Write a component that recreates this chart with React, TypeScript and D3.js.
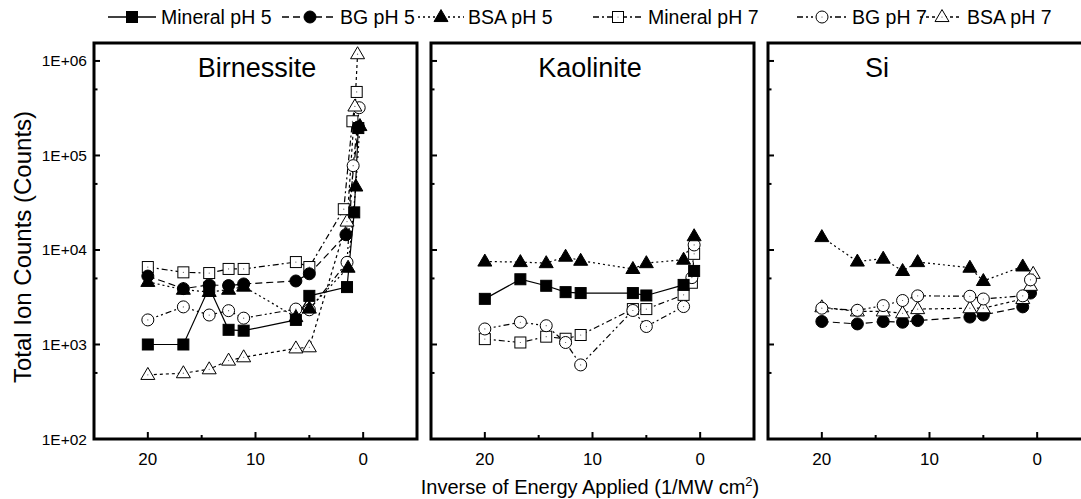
import React from "react";
import * as d3 from "d3";

// ---------- data ----------
const panelNames = ["Birnessite", "Kaolinite", "Si"];
const seriesNames = ["Mineral pH 5", "BG pH 5", "BSA pH 5", "Mineral pH 7", "BG pH 7", "BSA pH 7"];
const xStd = [20, 16.7, 14.3, 12.5, 11.1, 6.25, 5.0];

// Birnessite
const birMin5X = [...xStd, 1.5, 0.83, 0.45];
const birMin5Y = [1000, 1000, 4000, 1430, 1400, 1820, 3270, 4050, 25000, 195000];
const birBg5X = [...xStd, 1.6, 0.45];
const birBg5Y = [5300, 3900, 4270, 4200, 4370, 4700, 5600, 14500, 200000];
const birBsa5X = [...xStd, 1.4, 0.68, 0.3];
const birBsa5Y = [4600, 3800, 3600, 3800, 4100, 1950, 2400, 6500, 47000, 205000];
const birMin7X = [...xStd, 1.8, 1.0, 0.6];
const birMin7Y = [6600, 5800, 5700, 6300, 6300, 7450, 6600, 27000, 230000, 470000];
const birBg7X = [...xStd, 1.5, 0.93, 0.37];
const birBg7Y = [1820, 2500, 2050, 2280, 1900, 2370, 2330, 7400, 78000, 320000];
const birBsa7X = [...xStd, 1.5, 0.77, 0.52];
const birBsa7Y = [477, 497, 547, 676, 733, 910, 935, 20000, 330000, 1180000];

// Kaolinite
const kaoBsa5X = [...xStd, 1.54, 0.56];
const kaoBsa5Y = [7550, 7450, 7260, 8500, 7700, 6300, 7260, 7900, 14000];
const kaoMin5X = [...xStd, 1.54, 0.56];
const kaoMin5Y = [3040, 4900, 4180, 3580, 3500, 3500, 3300, 4270, 6000];
const kaoBg7X = [...xStd, 1.54, 0.77, 0.56];
const kaoBg7Y = [1460, 1720, 1580, 1050, 608, 2290, 1550, 2520, 5100, 11300];
const kaoMin7X = [...xStd, 1.54, 0.77, 0.56];
const kaoMin7Y = [1140, 1050, 1210, 1150, 1260, 2370, 2370, 3350, 4500, 9100];

// Si
const siBsa5X = [...xStd, 1.34];
const siBsa5Y = [13700, 7550, 8100, 6000, 7450, 6500, 4700, 6700];
const siBg7X = [...xStd, 1.34, 0.62];
const siBg7Y = [2420, 2300, 2580, 2920, 3270, 3240, 3030, 3270, 4830];
const siBsa7X = [...xStd, 1.34, 0.62, 0.37];
const siBsa7Y = [2480, 2240, 2240, 2140, 2370, 2420, 2420, 3030, 4180, 5600];
const siBg5X = [...xStd, 1.34, 0.62];
const siBg5Y = [1750, 1650, 1750, 1720, 1790, 1950, 2050, 2500, 3500];

const yTickValues = [1e2, 1e3, 1e4, 1e5, 1e6];
const yTickLabels = ["1E+02", "1E+03", "1E+04", "1E+05", "1E+06"];
const yMinorValues = [5e2, 5e3, 5e4, 5e5];
const xTickValues = [20, 10, 0];
const xMinorValues = [15, 5];

// ---------- styles ----------
type Style = { marker: string; fill: string; dash: string };
const styles: Style[] = [
  { marker: "square", fill: "#000", dash: "" },
  { marker: "circle", fill: "#000", dash: "7,4" },
  { marker: "triangle", fill: "#000", dash: "2,3" },
  { marker: "square", fill: "#fff", dash: "6,3,2,3" },
  { marker: "circle", fill: "#fff", dash: "6,3,2,3,2,3" },
  { marker: "triangle", fill: "#fff", dash: "3,3" },
];

type Series = { s: number; x: number[]; y: number[] };
const panelSeries: Series[][] = [
  [
    { s: 3, x: birMin7X, y: birMin7Y },
    { s: 4, x: birBg7X, y: birBg7Y },
    { s: 5, x: birBsa7X, y: birBsa7Y },
    { s: 1, x: birBg5X, y: birBg5Y },
    { s: 2, x: birBsa5X, y: birBsa5Y },
    { s: 0, x: birMin5X, y: birMin5Y },
  ],
  [
    { s: 3, x: kaoMin7X, y: kaoMin7Y },
    { s: 4, x: kaoBg7X, y: kaoBg7Y },
    { s: 0, x: kaoMin5X, y: kaoMin5Y },
    { s: 2, x: kaoBsa5X, y: kaoBsa5Y },
  ],
  [
    { s: 1, x: siBg5X, y: siBg5Y },
    { s: 5, x: siBsa7X, y: siBsa7Y },
    { s: 4, x: siBg7X, y: siBg7Y },
    { s: 2, x: siBsa5X, y: siBsa5Y },
  ],
];

const FONT = "'Liberation Sans', Arial, sans-serif";
const W = 1081;
const H = 499;
const panelLefts = [94, 431, 768];
const panelW = 323;
const top = 43;
const bottom = 439;
const titleX = [257, 590, 877];

function Marker({ kind, fill, cx, cy }: { kind: string; fill: string; cx: number; cy: number }) {
  const open = fill === "#fff";
  const dot = open ? <circle cx={cx} cy={cy} r={0.6} fill="#555" /> : null;
  if (kind === "square") {
    return (
      <g>
        <rect x={cx - 5.5} y={cy - 5.5} width={11} height={11} fill={fill} stroke="#000" strokeWidth={1} />
        {dot}
      </g>
    );
  }
  if (kind === "circle") {
    return (
      <g>
        <circle cx={cx} cy={cy} r={6} fill={fill} stroke="#000" strokeWidth={1} />
        {dot}
      </g>
    );
  }
  const h = 12;
  const w = 14;
  const p = `M${cx},${cy - h * 0.62} L${cx + w / 2},${cy + h * 0.38} L${cx - w / 2},${cy + h * 0.38} Z`;
  return (
    <g>
      <path d={p} fill={fill} stroke="#000" strokeWidth={1} />
      {dot}
    </g>
  );
}

export default function App() {
  const y = d3.scaleLog().domain([100, Math.pow(10, 6.19)]).range([bottom, top]);

  // legend layout
  const legendY = 17;
  const legendItems = [
    { x0: 108, x1: 156, mx: 132, tx: 161 },
    { x0: 282, x1: 334, mx: 310, tx: 340 },
    { x0: 418, x1: 464, mx: 441, tx: 468 },
    { x0: 593, x1: 643, mx: 618, tx: 648 },
    { x0: 797, x1: 846, mx: 822, tx: 852 },
    { x0: 920, x1: 962, mx: 942, tx: 967 },
  ];

  return (
    <svg width={W} height={H} style={{ position: "absolute", left: 0, top: 0, background: "#fff" }} fontFamily={FONT}>
      <rect x={0} y={0} width={W} height={H} fill="#fff" />
      {/* legend */}
      {legendItems.map((it, i) => (
        <g key={"lg" + i}>
          <line x1={it.x0} x2={it.x1} y1={legendY} y2={legendY} stroke="#000" strokeWidth={1.3} strokeDasharray={styles[i].dash || undefined} />
          <Marker kind={styles[i].marker} fill={styles[i].fill} cx={it.mx} cy={legendY} />
          <text x={it.tx} y={legendY + 7} fontSize={19.5}>{seriesNames[i]}</text>
        </g>
      ))}

      {panelNames.map((name, pi) => {
        const left = panelLefts[pi];
        const x = d3.scaleLinear().domain([25, -5]).range([left, left + panelW]);
        const line = d3
          .line<[number, number]>()
          .x((d) => x(d[0]))
          .y((d) => y(d[1]));
        return (
          <g key={name}>
            {/* data lines */}
            {panelSeries[pi].map((ser, si) => {
              const pts: [number, number][] = ser.x.map((xv, k) => [xv, ser.y[k]]);
              return (
                <path
                  key={"l" + si}
                  d={line(pts) || ""}
                  fill="none"
                  stroke="#000"
                  strokeWidth={1.2}
                  strokeDasharray={styles[ser.s].dash || undefined}
                />
              );
            })}
            {panelSeries[pi].map((ser, si) =>
              ser.x.map((xv, k) => (
                <Marker key={"m" + si + "_" + k} kind={styles[ser.s].marker} fill={styles[ser.s].fill} cx={x(xv)} cy={y(ser.y[k])} />
              ))
            )}
            {/* frame */}
            <rect x={left} y={top} width={panelW} height={bottom - top} fill="none" stroke="#000" strokeWidth={3} />
            {/* y ticks */}
            {yTickValues.map((v) => (
              <line key={"yt" + v} x1={left} x2={left + 6} y1={y(v)} y2={y(v)} stroke="#000" strokeWidth={2} />
            ))}
            {yMinorValues.map((v) => (
              <line key={"ym" + v} x1={left} x2={left + 3.5} y1={y(v)} y2={y(v)} stroke="#000" strokeWidth={2} />
            ))}
            {/* x ticks */}
            {xTickValues.map((v) => (
              <g key={"xt" + v}>
                <line x1={x(v)} x2={x(v)} y1={bottom} y2={bottom - 7} stroke="#000" strokeWidth={2} />
                <text x={x(v)} y={bottom + 26} fontSize={17} textAnchor="middle">{v}</text>
              </g>
            ))}
            {xMinorValues.map((v) => (
              <line key={"xm" + v} x1={x(v)} x2={x(v)} y1={bottom} y2={bottom - 4} stroke="#000" strokeWidth={2} />
            ))}
            <text x={titleX[pi]} y={77} fontSize={27} textAnchor="middle">{name}</text>
          </g>
        );
      })}

      {/* y tick labels */}
      {yTickValues.map((v, i) => (
        <text key={"yl" + v} x={87} y={y(v) + 5.5} fontSize={15.5} textAnchor="end">{yTickLabels[i]}</text>
      ))}

      <text transform={`translate(31,${(top + bottom) / 2 + 6}) rotate(-90)`} fontSize={24} textAnchor="middle">
        Total Ion Counts (Counts)
      </text>
      <text x={590} y={494} fontSize={20} textAnchor="middle">
        Inverse of Energy Applied (1/MW cm
        <tspan dy={-8} fontSize={13}>2</tspan>
        <tspan dy={8}>)</tspan>
      </text>
    </svg>
  );
}
